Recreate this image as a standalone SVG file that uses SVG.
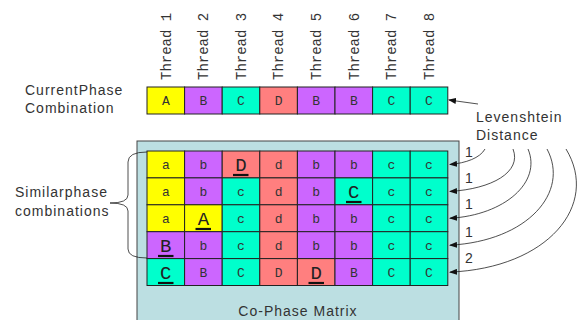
<svg xmlns="http://www.w3.org/2000/svg" width="587" height="320" viewBox="0 0 587 320">
<style>
.lbl{font-family:"Liberation Sans",Arial,sans-serif;font-size:14px;letter-spacing:1px;fill:#333}
.th{font-family:"Liberation Mono","Courier New",monospace;font-size:14px;fill:#333}
.cell rect{stroke:#222;stroke-width:1}
.t{font-family:"Liberation Mono","Courier New",monospace;font-size:13px;fill:#333;text-anchor:middle}
.u{font-family:"Liberation Mono","Courier New",monospace;font-size:19px;fill:#222;text-anchor:middle}
.ul{stroke:#111;stroke-width:2.2}
.Y{fill:#FFFF00}.P{fill:#CC66FF}.T{fill:#00FFCC}.R{fill:#FF7F7F}
.cv{fill:none;stroke:#222;stroke-width:0.8}
</style>
<defs>
<marker id="ah" markerWidth="8" markerHeight="6" refX="7" refY="3" orient="auto" markerUnits="userSpaceOnUse">
<path d="M0,0 L8,3 L0,6 Z" fill="#111"/>
</marker>
</defs>

<g id="thread-labels">
<text class="th" transform="translate(170.5,80) rotate(-90)">Thread 1</text>
<text class="th" transform="translate(208.1,80) rotate(-90)">Thread 2</text>
<text class="th" transform="translate(245.7,80) rotate(-90)">Thread 3</text>
<text class="th" transform="translate(283.3,80) rotate(-90)">Thread 4</text>
<text class="th" transform="translate(320.9,80) rotate(-90)">Thread 5</text>
<text class="th" transform="translate(358.5,80) rotate(-90)">Thread 6</text>
<text class="th" transform="translate(396.1,80) rotate(-90)">Thread 7</text>
<text class="th" transform="translate(433.7,80) rotate(-90)">Thread 8</text>
</g>

<g id="current-label">
<text class="lbl" x="25" y="95">CurrentPhase</text>
<text class="lbl" x="25" y="113">Combination</text>
</g>

<g id="current-row" class="cell">
<rect class="Y" x="147" y="87" width="37.6" height="27"/>
<rect class="P" x="184.6" y="87" width="37.6" height="27"/>
<rect class="T" x="222.2" y="87" width="37.6" height="27"/>
<rect class="R" x="259.8" y="87" width="37.6" height="27"/>
<rect class="P" x="297.4" y="87" width="37.6" height="27"/>
<rect class="P" x="335" y="87" width="37.6" height="27"/>
<rect class="T" x="372.6" y="87" width="37.6" height="27"/>
<rect class="T" x="410.2" y="87" width="37.6" height="27"/>
<text class="t" x="165.8" y="105">A</text>
<text class="t" x="203.4" y="105">B</text>
<text class="t" x="241" y="105">C</text>
<text class="t" x="278.6" y="105">D</text>
<text class="t" x="316.2" y="105">B</text>
<text class="t" x="353.8" y="105">B</text>
<text class="t" x="391.4" y="105">C</text>
<text class="t" x="429" y="105">C</text>
</g>

<g id="co-phase-matrix">
<rect x="137" y="141" width="322" height="185" fill="#BCDFE2" stroke="#444" stroke-width="1"/>
<text class="lbl" x="298" y="316" text-anchor="middle">Co-Phase Matrix</text>
</g>

<g id="matrix-cells" class="cell">
<!-- row 1 -->
<rect class="Y" x="147" y="151" width="37.6" height="26.9"/>
<rect class="P" x="184.6" y="151" width="37.6" height="26.9"/>
<rect class="R" x="222.2" y="151" width="37.6" height="26.9"/>
<rect class="R" x="259.8" y="151" width="37.6" height="26.9"/>
<rect class="P" x="297.4" y="151" width="37.6" height="26.9"/>
<rect class="P" x="335" y="151" width="37.6" height="26.9"/>
<rect class="T" x="372.6" y="151" width="37.6" height="26.9"/>
<rect class="T" x="410.2" y="151" width="37.6" height="26.9"/>
<!-- row 2 -->
<rect class="Y" x="147" y="177.9" width="37.6" height="26.9"/>
<rect class="P" x="184.6" y="177.9" width="37.6" height="26.9"/>
<rect class="T" x="222.2" y="177.9" width="37.6" height="26.9"/>
<rect class="R" x="259.8" y="177.9" width="37.6" height="26.9"/>
<rect class="P" x="297.4" y="177.9" width="37.6" height="26.9"/>
<rect class="T" x="335" y="177.9" width="37.6" height="26.9"/>
<rect class="T" x="372.6" y="177.9" width="37.6" height="26.9"/>
<rect class="T" x="410.2" y="177.9" width="37.6" height="26.9"/>
<!-- row 3 -->
<rect class="Y" x="147" y="204.8" width="37.6" height="26.9"/>
<rect class="Y" x="184.6" y="204.8" width="37.6" height="26.9"/>
<rect class="T" x="222.2" y="204.8" width="37.6" height="26.9"/>
<rect class="R" x="259.8" y="204.8" width="37.6" height="26.9"/>
<rect class="P" x="297.4" y="204.8" width="37.6" height="26.9"/>
<rect class="P" x="335" y="204.8" width="37.6" height="26.9"/>
<rect class="T" x="372.6" y="204.8" width="37.6" height="26.9"/>
<rect class="T" x="410.2" y="204.8" width="37.6" height="26.9"/>
<!-- row 4 -->
<rect class="P" x="147" y="231.7" width="37.6" height="26.9"/>
<rect class="P" x="184.6" y="231.7" width="37.6" height="26.9"/>
<rect class="T" x="222.2" y="231.7" width="37.6" height="26.9"/>
<rect class="R" x="259.8" y="231.7" width="37.6" height="26.9"/>
<rect class="P" x="297.4" y="231.7" width="37.6" height="26.9"/>
<rect class="P" x="335" y="231.7" width="37.6" height="26.9"/>
<rect class="T" x="372.6" y="231.7" width="37.6" height="26.9"/>
<rect class="T" x="410.2" y="231.7" width="37.6" height="26.9"/>
<!-- row 5 -->
<rect class="T" x="147" y="258.6" width="37.6" height="26.9"/>
<rect class="P" x="184.6" y="258.6" width="37.6" height="26.9"/>
<rect class="T" x="222.2" y="258.6" width="37.6" height="26.9"/>
<rect class="R" x="259.8" y="258.6" width="37.6" height="26.9"/>
<rect class="R" x="297.4" y="258.6" width="37.6" height="26.9"/>
<rect class="P" x="335" y="258.6" width="37.6" height="26.9"/>
<rect class="T" x="372.6" y="258.6" width="37.6" height="26.9"/>
<rect class="T" x="410.2" y="258.6" width="37.6" height="26.9"/>

<!-- row 1 text -->
<text class="t" x="165.8" y="169">a</text>
<text class="t" x="203.4" y="169">b</text>
<text class="u" x="241" y="171">D</text>
<line class="ul" x1="233" y1="175" x2="248.5" y2="175"/>
<text class="t" x="278.6" y="169">d</text>
<text class="t" x="316.2" y="169">b</text>
<text class="t" x="353.8" y="169">b</text>
<text class="t" x="391.4" y="169">c</text>
<text class="t" x="429" y="169">c</text>
<!-- row 2 text -->
<text class="t" x="165.8" y="196">a</text>
<text class="t" x="203.4" y="196">b</text>
<text class="t" x="241" y="196">c</text>
<text class="t" x="278.6" y="196">d</text>
<text class="t" x="316.2" y="196">b</text>
<text class="u" x="353.8" y="198">C</text>
<line class="ul" x1="346" y1="202" x2="361.5" y2="202"/>
<text class="t" x="391.4" y="196">c</text>
<text class="t" x="429" y="196">c</text>
<!-- row 3 text -->
<text class="t" x="165.8" y="222.5">a</text>
<text class="u" x="203.4" y="225">A</text>
<line class="ul" x1="195.5" y1="229" x2="211" y2="229"/>
<text class="t" x="241" y="222.5">c</text>
<text class="t" x="278.6" y="222.5">d</text>
<text class="t" x="316.2" y="222.5">b</text>
<text class="t" x="353.8" y="222.5">b</text>
<text class="t" x="391.4" y="222.5">c</text>
<text class="t" x="429" y="222.5">c</text>
<!-- row 4 text -->
<text class="u" x="165.8" y="252">B</text>
<line class="ul" x1="158" y1="256" x2="173.5" y2="256"/>
<text class="t" x="203.4" y="249.5">b</text>
<text class="t" x="241" y="249.5">c</text>
<text class="t" x="278.6" y="249.5">d</text>
<text class="t" x="316.2" y="249.5">b</text>
<text class="t" x="353.8" y="249.5">b</text>
<text class="t" x="391.4" y="249.5">c</text>
<text class="t" x="429" y="249.5">c</text>
<!-- row 5 text -->
<text class="u" x="165.8" y="279">C</text>
<line class="ul" x1="158" y1="283" x2="173.5" y2="283"/>
<text class="t" x="203.4" y="276.5">B</text>
<text class="t" x="241" y="276.5">C</text>
<text class="t" x="278.6" y="276.5">D</text>
<text class="u" x="316.2" y="279">D</text>
<line class="ul" x1="308.5" y1="283" x2="324" y2="283"/>
<text class="t" x="353.8" y="276.5">B</text>
<text class="t" x="391.4" y="276.5">C</text>
<text class="t" x="429" y="276.5">C</text>
</g>

<g id="similar-label">
<text class="lbl" x="15" y="197">Similarphase</text>
<text class="lbl" x="15" y="216">combinations</text>
<path class="cv" d="M147,152 Q128,152 128,162 L128,195 Q128,203 110,203 Q128,203 128,211 L128,249 Q128,258 147,258" stroke-width="1"/>
</g>

<g id="levenshtein-label">
<text class="lbl" x="476" y="122">Levenshtein</text>
<text class="lbl" x="476" y="140">Distance</text>
<text class="lbl" x="465" y="157">1</text>
<text class="lbl" x="465" y="183">1</text>
<text class="lbl" x="465" y="209">1</text>
<text class="lbl" x="465" y="237">1</text>
<text class="lbl" x="465" y="263">2</text>
</g>

<g id="connectors">
<path class="cv" d="M478,104 L449,100" stroke-width="1.2" marker-end="url(#ah)"/>
<path class="cv" d="M485,149 C480,158 466,163 450,164.5" marker-end="url(#ah)"/>
<path class="cv" d="M513,149 C522,172 492,189 450,191.4" marker-end="url(#ah)"/>
<path class="cv" d="M528,149 C542,182 505,215 450,218.3" marker-end="url(#ah)"/>
<path class="cv" d="M547,149 C570,192 528,241 450,245.2" marker-end="url(#ah)"/>
<path class="cv" d="M566,149 C600,205 548,268 450,272.1" marker-end="url(#ah)"/>
</g>
</svg>
